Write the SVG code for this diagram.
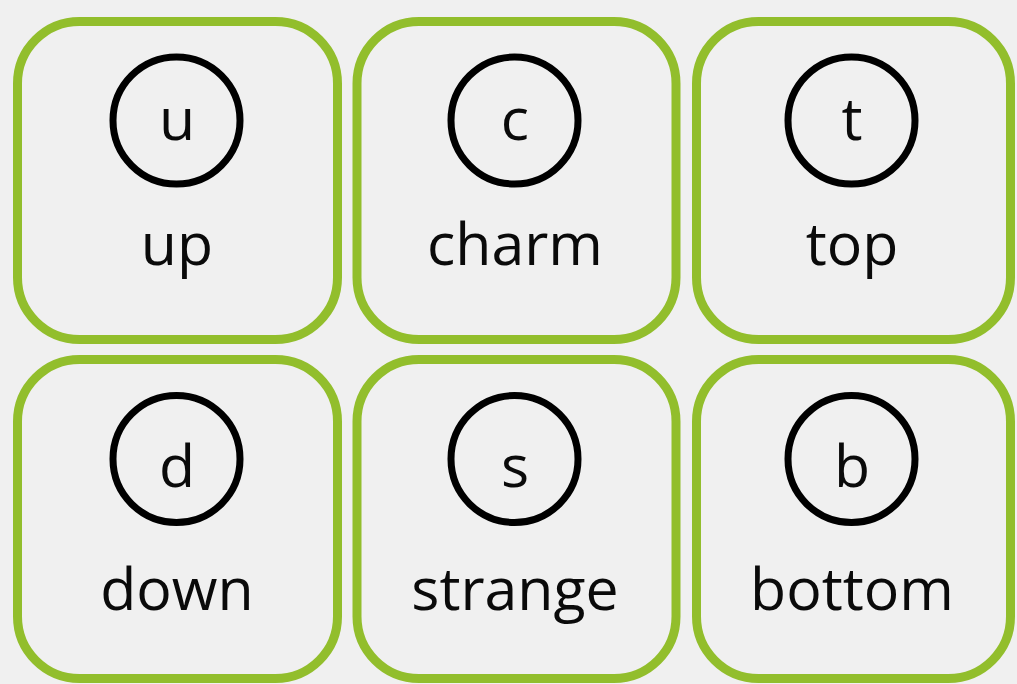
<svg xmlns="http://www.w3.org/2000/svg" width="1017" height="684" viewBox="0 0 1017 684">
<style>
.box{fill:none;stroke:#92be2c;stroke-width:9}
.ring{fill:none;stroke:#000;stroke-width:7}
.t{font-family:"Open Sans","Noto Sans",sans-serif;font-size:59px;fill:#0a0a0a;text-anchor:middle}
</style>
<rect width="1017" height="684" fill="#f0f0f0"/>
<g id="up"><rect class="box" x="17.5" y="21.5" width="320" height="318" rx="62"/><circle class="ring" cx="176.5" cy="120.5" r="63.5"/><text class="t" x="177" y="140">u</text><text class="t" x="177" y="265">up</text></g>
<g id="charm"><rect class="box" x="357" y="21.5" width="319" height="318" rx="62"/><circle class="ring" cx="514.5" cy="120.5" r="63.5"/><text class="t" x="515" y="140">c</text><text class="t" x="515" y="265">charm</text></g>
<g id="top"><rect class="box" x="696.5" y="21.5" width="314" height="318" rx="62"/><circle class="ring" cx="851.5" cy="120.5" r="63.5"/><text class="t" x="852" y="140">t</text><text class="t" x="852" y="265">top</text></g>
<g id="down"><rect class="box" x="17.5" y="359.5" width="320" height="319" rx="62"/><circle class="ring" cx="176.5" cy="459" r="63.5"/><text class="t" x="177" y="487">d</text><text class="t" x="177" y="610">down</text></g>
<g id="strange"><rect class="box" x="357" y="359.5" width="319" height="319" rx="62"/><circle class="ring" cx="514.5" cy="459" r="63.5"/><text class="t" x="515" y="487">s</text><text class="t" x="515" y="610">strange</text></g>
<g id="bottom"><rect class="box" x="696.5" y="359.5" width="314" height="319" rx="62"/><circle class="ring" cx="851.5" cy="459" r="63.5"/><text class="t" x="852" y="487">b</text><text class="t" x="852" y="610">bottom</text></g>
<g id="connectors"/>
</svg>
